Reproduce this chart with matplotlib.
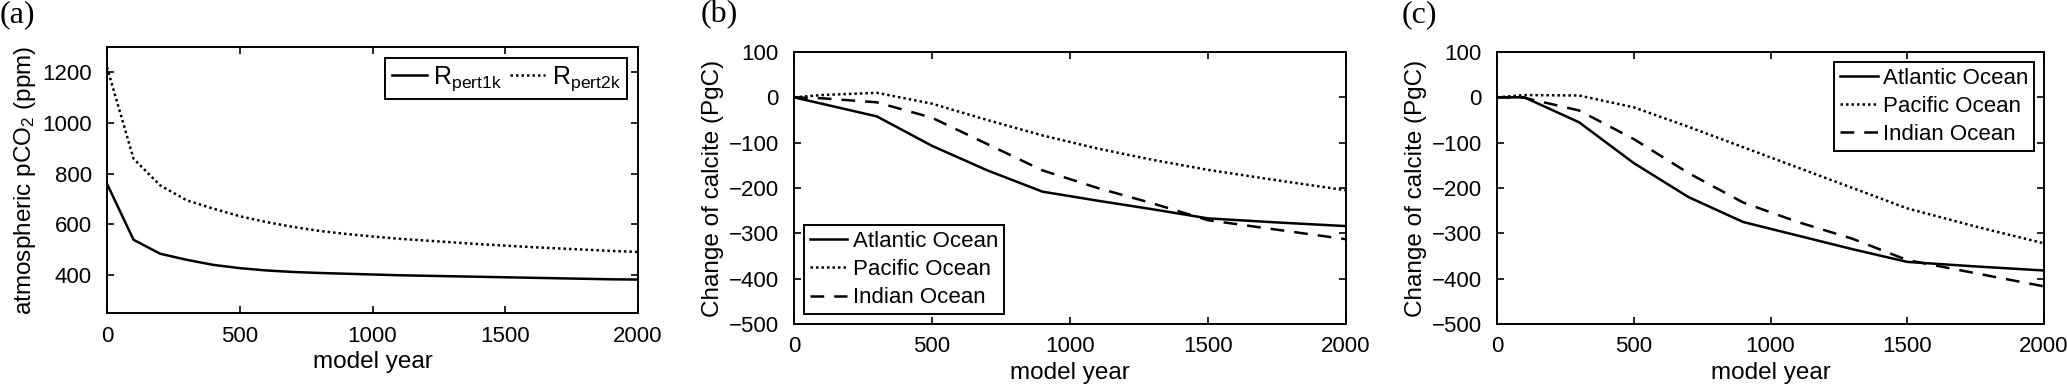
import numpy as np
import matplotlib
matplotlib.use("Agg")
import matplotlib.pyplot as plt

plt.rcParams['font.family'] = ['Liberation Sans', 'DejaVu Sans']
plt.rcParams['mathtext.fontset'] = 'custom'
plt.rcParams['mathtext.rm'] = 'Liberation Sans'
plt.rcParams['mathtext.it'] = 'Liberation Sans'

# (a) atmospheric pCO2 (ppm)
years_a = [0, 100, 200, 300, 400, 500, 600, 700, 800, 900, 1000,
           1100, 1200, 1300, 1400, 1500, 1600, 1700, 1800, 1900, 2000]
pert1k = [760, 539, 484, 460, 440, 427, 418, 412, 408, 405, 402,
          399, 397, 395, 393, 391, 389, 387, 385, 383, 382]
pert2k = [1220, 859, 754, 695, 662, 632, 609, 590, 574, 562, 552,
          543, 536, 529, 522, 516, 510, 505, 500, 495, 491]

# (b), (c) change of calcite (PgC)
years_oc = [0, 100, 300, 500, 700, 900, 1100, 1300, 1500, 1750, 2000]
atl_b = [0, -14, -42, -107, -161, -208, -228, -247, -267, -276, -284]
pac_b = [0, 5, 10, -14, -50, -84, -113, -138, -160, -183, -205]
ind_b = [0, -2, -11, -45, -103, -161, -200, -234, -271, -292, -313]

atl_c = [0, 0, -55, -145, -220, -275, -305, -335, -363, -373, -382]
pac_c = [0, 5, 4, -22, -65, -110, -155, -200, -245, -285, -322]
ind_c = [0, -1, -29, -92, -167, -232, -275, -312, -359, -388, -417]

ocean_names = ['Atlantic Ocean', 'Pacific Ocean', 'Indian Ocean']

W, H = 2067, 390
fig = plt.figure(figsize=(W / 100, H / 100), dpi=100)

def px_axes(l, r, t, b):
    return fig.add_axes([l / W, (H - b) / H, (r - l) / W, (b - t) / H])

LW = 1.8
DOT = (0, (1, 1.2))
DASH = (0, (5.5, 4))

def style(ax, ylab):
    for s in ax.spines.values():
        s.set_linewidth(1.4)
    ax.tick_params(direction='in', top=True, right=True, length=5, width=1.2,
                   labelsize=16)
    ax.tick_params(axis='y', pad=11)
    ax.tick_params(axis='x', pad=9)
    ax.set_xlim(0, 2000)
    ax.set_xticks([0, 500, 1000, 1500, 2000])
    ax.set_xlabel('model year', fontsize=17.5, labelpad=3)
    ax.set_ylabel(ylab, fontsize=17.5, labelpad=3)

def legend(ax, size=16, **kw):
    leg = ax.legend(fontsize=size, frameon=True, fancybox=False, framealpha=1,
                    edgecolor='black', handletextpad=0.25,
                    borderpad=0.25, borderaxespad=0.45, **kw)
    leg.get_frame().set_linewidth(1.4)
    return leg

# panel a
ax = px_axes(107, 638, 47, 313)
ax.plot(years_a, pert1k, color='black', lw=LW, label=r'$\mathregular{R_{pert1k}}$')
ax.plot(years_a, pert2k, color='black', lw=LW, linestyle=DOT,
        label=r'$\mathregular{R_{pert2k}}$')
ax.set_ylim(250, 1300)
ax.set_yticks([400, 600, 800, 1000, 1200])
style(ax, r'atmospheric pCO$_2$ (ppm)')
legend(ax, size=18, loc='upper right', ncol=2, columnspacing=0.35,
       handlelength=1.4)

# panels b, c
for (l, r), series, loc in [((794, 1346), (atl_b, pac_b, ind_b), 'lower left'),
                            ((1497, 2044), (atl_c, pac_c, ind_c), 'upper right')]:
    ax = px_axes(l, r, 52, 324)
    for vals, name, ls in zip(series, ocean_names, ['-', DOT, DASH]):
        ax.plot(years_oc, vals, color='black', lw=LW, linestyle=ls, label=name)
    ax.set_ylim(-500, 100)
    ax.set_yticks(np.arange(-500, 101, 100))
    style(ax, 'Change of calcite (PgC)')
    legend(ax, loc=loc, handlelength=1.7, labelspacing=0.33)

for x, lab in [(0, '(a)'), (701, '(b)'), (1402, '(c)')]:
    fig.text(x / W, 1.0, lab, fontsize=23, family='Liberation Serif',
             ha='left', va='top')

fig.savefig('out.png', dpi=100)
